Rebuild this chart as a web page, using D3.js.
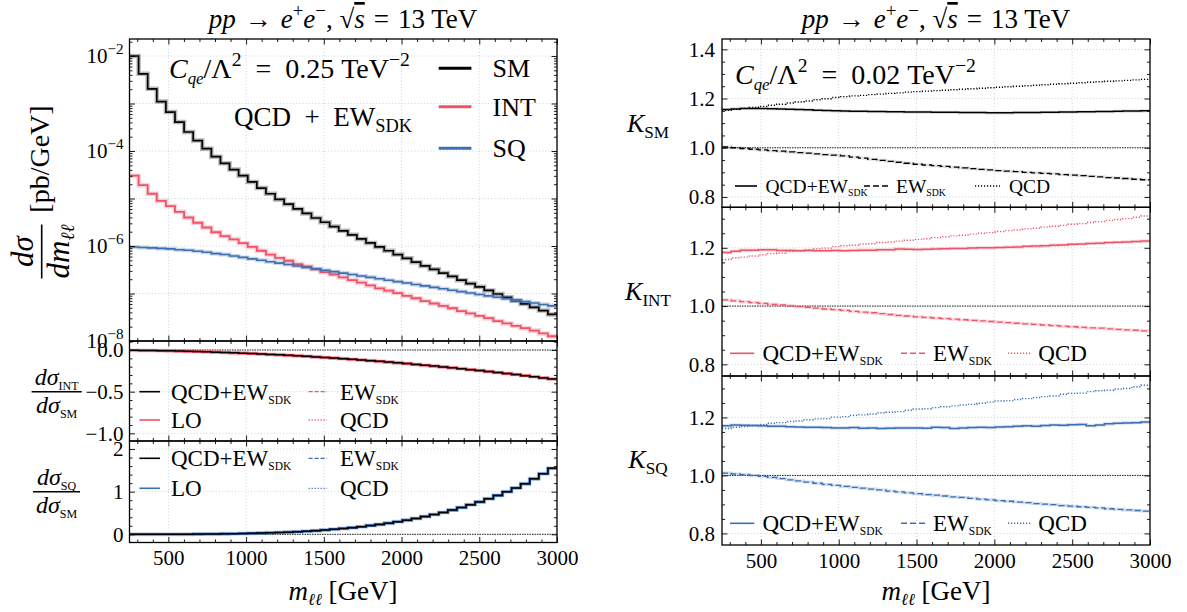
<!DOCTYPE html>
<html><head><meta charset="utf-8">
<script src="https://cdn.jsdelivr.net/npm/d3@7/dist/d3.min.js"></script>
<style>
html,body{margin:0;padding:0;background:#fff;overflow:hidden}
svg text{font-family:"Liberation Serif","DejaVu Serif",serif;fill:#000}
.tick text{font-size:21px}
</style></head><body>
<svg id="chart" width="1187" height="612" xmlns="http://www.w3.org/2000/svg"></svg>
<script>
// ---------------- data ----------------
const massRange = [250, 3000];
const nBins = 47;
const xTickValues = [500, 1000, 1500, 2000, 2500, 3000];
const logLabelExponents = [-2, -4, -6, -8];
const intRatioTicks = [0, -0.5, -1.0];
const sqRatioTicks = [0, 1, 2];
const kTicksSM = [0.8, 1.0, 1.2, 1.4];
const kTicks = [0.8, 1.0, 1.2];
const componentNames = ["SM", "INT", "SQ"];

// log10 of dσ/dm [pb/GeV] per bin
const smLog10 = [-2.00,-2.375,-2.69,-2.96,-3.18,-3.39,-3.60,-3.78,-3.95,-4.12,-4.26,
 -4.39,-4.52,-4.65,-4.78,-4.90,-5.02,-5.12,-5.22,-5.315,-5.41,
 -5.50,-5.59,-5.68,-5.765,-5.85,-5.935,-6.02,-6.10,-6.18,-6.26,
 -6.34,-6.42,-6.49,-6.57,-6.64,-6.72,-6.79,-6.86,-6.935,-7.01,
 -7.08,-7.15,-7.22,-7.29,-7.36,-7.44];
const intLog10 = [-4.52,-4.72,-4.90,-5.05,-5.16,-5.28,-5.40,-5.51,-5.61,-5.71,-5.79,
 -5.86,-5.94,-6.02,-6.10,-6.18,-6.25,-6.31,-6.38,-6.43,-6.49,
 -6.55,-6.60,-6.66,-6.72,-6.77,-6.83,-6.89,-6.94,-6.99,-7.05,
 -7.10,-7.16,-7.21,-7.26,-7.31,-7.37,-7.42,-7.47,-7.52,-7.58,
 -7.63,-7.68,-7.73,-7.78,-7.84,-7.90];
const sqLog10 = [-6.02,-6.03,-6.04,-6.05,-6.06,-6.08,-6.09,-6.11,-6.13,-6.16,-6.18,
 -6.21,-6.24,-6.27,-6.30,-6.33,-6.36,-6.39,-6.42,-6.45,-6.48,
 -6.51,-6.54,-6.57,-6.60,-6.63,-6.66,-6.69,-6.72,-6.75,-6.78,
 -6.81,-6.84,-6.87,-6.90,-6.93,-6.96,-6.99,-7.02,-7.05,-7.08,
 -7.11,-7.14,-7.17,-7.20,-7.23,-7.26];

const intOverSm = [-0.003,-0.0045,-0.006,-0.008,-0.010,-0.013,-0.016,-0.019,-0.022,-0.026,-0.030,
 -0.034,-0.038,-0.043,-0.048,-0.053,-0.058,-0.064,-0.070,-0.076,-0.083,
 -0.090,-0.097,-0.104,-0.112,-0.120,-0.128,-0.136,-0.145,-0.154,-0.163,
 -0.173,-0.183,-0.193,-0.203,-0.214,-0.225,-0.236,-0.247,-0.259,-0.271,
 -0.283,-0.295,-0.308,-0.321,-0.335,-0.348];
const sqOverSm = [0.0001,0.0003,0.0005,0.0008,0.0013,0.0021,0.0031,0.0044,0.0060,0.0082,0.0108,
 0.0141,0.0180,0.0227,0.0282,0.0347,0.0423,0.051,0.061,0.073,0.086,
 0.100,0.117,0.135,0.156,0.179,0.204,0.232,0.262,0.296,0.332,
 0.372,0.415,0.463,0.513,0.568,0.628,0.692,0.760,0.834,0.913,
 0.997,1.087,1.183,1.30,1.42,1.55];

const kSmQcdEw = [1.155,1.158,1.160,1.160,1.160,1.159,1.158,1.156,1.155,1.154,1.152,
 1.151,1.150,1.149,1.148,1.148,1.147,1.147,1.146,1.146,1.145,
 1.145,1.145,1.144,1.144,1.144,1.143,1.143,1.143,1.142,1.142,
 1.142,1.143,1.143,1.143,1.144,1.144,1.145,1.145,1.146,1.146,
 1.147,1.147,1.148,1.149,1.149,1.150];
const kSmEw = [1.003,1.000,0.997,0.994,0.991,0.988,0.986,0.983,0.980,0.978,0.975,
 0.972,0.970,0.967,0.962,0.958,0.953,0.949,0.945,0.941,0.937,
 0.933,0.930,0.927,0.924,0.921,0.918,0.915,0.912,0.910,0.907,
 0.905,0.903,0.900,0.898,0.896,0.894,0.891,0.889,0.887,0.884,
 0.882,0.879,0.877,0.875,0.872,0.870];
const kSmQcd = [1.152,1.156,1.160,1.164,1.168,1.173,1.177,1.182,1.186,1.190,1.195,
 1.199,1.204,1.208,1.211,1.213,1.216,1.218,1.221,1.223,1.226,
 1.228,1.230,1.232,1.234,1.236,1.238,1.240,1.242,1.244,1.246,
 1.248,1.250,1.252,1.254,1.256,1.258,1.260,1.262,1.264,1.266,
 1.268,1.270,1.272,1.274,1.276,1.278];
const kIntQcdEw = [1.184,1.188,1.192,1.192,1.193,1.193,1.191,1.191,1.190,1.191,1.190,
 1.190,1.191,1.190,1.191,1.192,1.192,1.193,1.193,1.196,1.195,
 1.194,1.195,1.196,1.197,1.198,1.198,1.199,1.200,1.200,1.201,
 1.202,1.203,1.205,1.206,1.207,1.209,1.210,1.212,1.213,1.215,
 1.216,1.218,1.219,1.220,1.222,1.223];
const kIntEw = [1.021,1.018,1.015,1.012,1.009,1.006,1.004,1.001,0.998,0.996,0.993,
 0.990,0.988,0.985,0.982,0.979,0.977,0.974,0.971,0.968,0.966,
 0.963,0.961,0.959,0.957,0.955,0.953,0.951,0.949,0.947,0.945,
 0.943,0.941,0.939,0.937,0.935,0.933,0.931,0.929,0.927,0.925,
 0.924,0.922,0.920,0.918,0.917,0.915];
const kIntQcd = [1.160,1.166,1.168,1.172,1.176,1.180,1.182,1.187,1.190,1.193,1.197,
 1.199,1.204,1.207,1.209,1.213,1.214,1.218,1.220,1.223,1.226,
 1.229,1.231,1.235,1.238,1.241,1.243,1.247,1.250,1.252,1.256,
 1.259,1.261,1.265,1.267,1.271,1.274,1.277,1.281,1.283,1.287,
 1.290,1.294,1.297,1.300,1.305,1.309];
const kSqQcdEw = [1.171,1.174,1.173,1.172,1.171,1.170,1.170,1.168,1.167,1.166,1.166,
 1.165,1.164,1.164,1.165,1.163,1.164,1.162,1.163,1.164,1.164,
 1.164,1.163,1.166,1.165,1.162,1.164,1.165,1.166,1.165,1.167,
 1.168,1.170,1.171,1.170,1.172,1.174,1.173,1.175,1.176,1.171,
 1.174,1.178,1.180,1.181,1.182,1.184];
const kSqEw = [1.008,1.005,1.003,1.000,0.997,0.993,0.989,0.985,0.981,0.977,0.973,
 0.969,0.966,0.962,0.959,0.956,0.953,0.950,0.946,0.943,0.940,
 0.937,0.934,0.932,0.929,0.926,0.924,0.921,0.918,0.916,0.913,
 0.911,0.908,0.906,0.903,0.901,0.899,0.896,0.894,0.892,0.890,
 0.888,0.885,0.883,0.881,0.879,0.877];
const kSqQcd = [1.162,1.166,1.169,1.172,1.176,1.180,1.182,1.186,1.188,1.192,1.195,
 1.196,1.201,1.203,1.207,1.209,1.212,1.216,1.218,1.220,1.225,
 1.229,1.230,1.234,1.237,1.240,1.243,1.245,1.249,1.253,1.257,
 1.258,1.262,1.265,1.269,1.272,1.274,1.280,1.283,1.284,1.289,
 1.292,1.294,1.298,1.300,1.306,1.311];

// ---------------- style / layout ----------------
const RED = "#ee5468", BLUE = "#3d6fb3", GRID = "#b9c9d6";
const LX = [129.5, 557], RX = [722, 1150];
const ES = "\u2002", TS = "\u2004";
const svg = d3.select("#chart");
const xL = d3.scaleLinear(massRange, LX);
const xR = d3.scaleLinear(massRange, RX);
const edges = d3.range(nBins + 1).map(i => massRange[0] + i * (massRange[1] - massRange[0]) / nBins);
const xMinor = d3.range(300, 3000, 100).filter(v => v % 500 !== 0);

function stepData(vals) {
  const pts = vals.map((v, i) => [edges[i], v]);
  pts.push([edges[nBins], vals[nBins - 1]]);
  return pts;
}
function stepLine(x, y) {
  return d3.line().x(d => x(d[0])).y(d => y(d[1])).curve(d3.curveStepAfter);
}
function minors(lo, hi, step, major) {
  const out = [];
  for (let v = Math.ceil(lo / step) * step; v <= hi + 1e-9; v += step) {
    const r = v / major;
    if (Math.abs(r - Math.round(r)) > 0.01) out.push(+v.toFixed(4));
  }
  return out;
}

function rich(parent, x, y, size, parts, anchor) {
  const t = parent.append("text").attr("x", x).attr("y", y).attr("font-size", size)
    .attr("text-anchor", anchor || "start");
  let cur = 0;
  for (const p of parts) {
    const s = t.append("tspan").text(p.t);
    const target = p.sub ? size * (p.k ?? 0.28) : p.sup ? -size * (p.k ?? 0.42) : 0;
    if (target !== cur) { s.attr("dy", target - cur); cur = target; }
    if (p.fs) s.attr("font-size", size * p.fs);
    if (p.i) s.attr("font-style", "italic");
    if (p.ov) s.style("text-decoration", "overline");
  }
  return t;
}

let clipN = 0;
function frame(x, y, o) {
  const g = svg.append("g");
  const [xl, xr] = x.range(), [yb, yt] = y.range();
  const grid = g.append("g").attr("stroke", GRID).attr("stroke-width", 0.8).attr("stroke-dasharray", "1,2.2");
  grid.selectAll(".gx").data(o.xGrid).join("line").attr("class", "gx")
    .attr("x1", d => x(d)).attr("x2", d => x(d)).attr("y1", yt).attr("y2", yb);
  grid.selectAll(".gy").data(o.yGrid).join("line").attr("class", "gy")
    .attr("x1", xl).attr("x2", xr).attr("y1", d => y(d)).attr("y2", d => y(d));
  const id = "clip" + (clipN++);
  g.append("clipPath").attr("id", id).append("rect")
    .attr("x", xl).attr("y", yt).attr("width", xr - xl).attr("height", yb - yt);
  const data = g.append("g").attr("clip-path", `url(#${id})`);
  const axes = g.append("g");
  const mk = (fn, sc, vals, size, tr) => {
    const a = axes.append("g").attr("transform", tr)
      .call(fn(sc).tickValues(vals).tickSize(-size).tickFormat(""));
    a.select(".domain").remove();
    a.selectAll("text").remove();
    a.selectAll(".tick line").attr("stroke", "#000").attr("stroke-width", 0.9);
  };
  mk(d3.axisBottom, x, xTickValues, 5.5, `translate(0,${yb})`);
  mk(d3.axisBottom, x, xMinor, 3, `translate(0,${yb})`);
  mk(d3.axisTop, x, xTickValues, 5.5, `translate(0,${yt})`);
  mk(d3.axisTop, x, xMinor, 3, `translate(0,${yt})`);
  mk(d3.axisLeft, y, o.yMajor, 5.5, `translate(${xl},0)`);
  mk(d3.axisLeft, y, o.yMinor, 3, `translate(${xl},0)`);
  mk(d3.axisRight, y, o.yMajor, 5.5, `translate(${xr},0)`);
  mk(d3.axisRight, y, o.yMinor, 3, `translate(${xr},0)`);
  if (o.xLabels) {
    const a = axes.append("g").attr("transform", `translate(0,${yb})`)
      .call(d3.axisBottom(x).tickValues(o.xLabels).tickSize(0).tickPadding(o.xPad).tickFormat(d3.format("d")));
    a.select(".domain").remove();
    a.attr("font-size", null).attr("font-family", null);
  }
  if (o.yLabels) {
    const a = axes.append("g").attr("transform", `translate(${xl},0)`)
      .call(d3.axisLeft(y).tickValues(o.yLabels).tickSize(0).tickPadding(o.yPad).tickFormat(o.yFmt));
    a.select(".domain").remove();
    a.attr("font-size", null).attr("font-family", null);
  }
  g.append("rect").attr("x", xl).attr("y", yt).attr("width", xr - xl).attr("height", yb - yt)
    .attr("fill", "none").attr("stroke", "#000").attr("stroke-width", 1.3);
  return { g, data, axes };
}

function drawStep(parent, x, y, vals, color, width, dash, shade, shadeOp) {
  const ln = stepLine(x, y);
  const pts = stepData(vals);
  if (shade) parent.append("path").attr("d", ln(pts)).attr("fill", "none")
    .attr("stroke", color).attr("stroke-opacity", shadeOp || 0.28).attr("stroke-width", shade);
  parent.append("path").attr("d", ln(pts)).attr("fill", "none").attr("stroke", color)
    .attr("stroke-width", width).attr("stroke-dasharray", dash || null);
}
function refLine(parent, x, y, v) {
  parent.append("line").attr("x1", x.range()[0]).attr("x2", x.range()[1])
    .attr("y1", y(v)).attr("y2", y(v)).attr("stroke", "#222").attr("stroke-width", 1)
    .attr("stroke-dasharray", "1.5,1");
}
function handle(parent, x1, x2, yy, color, width, dash) {
  parent.append("line").attr("x1", x1).attr("x2", x2).attr("y1", yy).attr("y2", yy)
    .attr("stroke", color).attr("stroke-width", width).attr("stroke-dasharray", dash || null);
}
const DASH = "6,3", DOT = "1.2,1.8";

// ---------------- left: top panel ----------------
const yTop = d3.scaleLog([1e-8, Math.pow(10, -1.642)], [341, 39]);
const decades = d3.range(-8, -1).map(e => Math.pow(10, e));
const logMinor = [];
d3.range(-8, -1).forEach(e => d3.range(2, 10).forEach(m => { const v = m * Math.pow(10, e); if (v < yTop.domain()[1]) logMinor.push(v); }));
const fTop = frame(xL, yTop, { xGrid: xTickValues, yGrid: decades, yMajor: decades, yMinor: logMinor });
drawStep(fTop.data, xL, yTop, smLog10.map(v => Math.pow(10, v)), "#000", 1.7, null, 4.5);
drawStep(fTop.data, xL, yTop, intLog10.map(v => Math.pow(10, v)), RED, 1.8, null, 4.5);
drawStep(fTop.data, xL, yTop, sqLog10.map(v => Math.pow(10, v)), BLUE, 1.6, null, 4);
logLabelExponents.forEach(e => {
  rich(fTop.axes, LX[0] - 6, yTop(Math.pow(10, e)) + 7, 21,
    [{ t: "10" }, { t: "−" + (-e), sup: 1, fs: 0.72, k: 0.45 }], "end");
});
// annotations
rich(svg, 169, 78, 28, [{ t: "C", i: 1 }, { t: "qe", i: 1, sub: 1, fs: 0.6, k: 0.22 }, { t: "/Λ" },
  { t: "2", sup: 1, fs: 0.7 }, { t: ES + "=" + ES + "0.25 TeV" }, { t: "−2", sup: 1, fs: 0.7 }]);
rich(svg, 234, 126, 27, [{ t: "QCD" + ES + "+" + ES + "EW" }, { t: "SDK", sub: 1, fs: 0.68, k: 0.22 }]);
const mainColors = ["#000", RED, BLUE], mainY = [68.3, 106.7, 148.3];
componentNames.forEach((n, i) => {
  handle(svg, 438.7, 471.4, mainY[i], mainColors[i], 3);
  rich(svg, 492.6, mainY[i] + 9, 26, [{ t: n }]);
});
// title
const titleParts = [{ t: "pp", i: 1 }, { t: TS + "→" + TS }, { t: "e", i: 1 }, { t: "+", sup: 1, fs: 0.7, k: 0.4 },
  { t: "e", i: 1 }, { t: "−", sup: 1, fs: 0.7, k: 0.4 }, { t: ", √" }, { t: "s", i: 1, ov: 1 }, { t: TS + "=" + TS + "13 TeV" }];
rich(svg, 343, 28, 27, titleParts, "middle");
rich(svg, 936, 28, 27, titleParts, "middle");

// y-label left top (rotated fraction)
const yl = svg.append("g").attr("transform", "translate(41.7,251.5) rotate(-90)");
rich(yl, 0, -9, 31, [{ t: "dσ", i: 1 }], "middle");
yl.append("line").attr("x1", -27).attr("x2", 27).attr("y1", 0).attr("y2", 0).attr("stroke", "#000").attr("stroke-width", 1.6);
rich(yl, 0, 27, 31, [{ t: "dm", i: 1 }, { t: "ℓℓ", i: 1, sub: 1, fs: 0.62, k: 0.18 }], "middle");
rich(yl, 92.5, 7, 28, [{ t: "[pb/GeV]" }], "middle");

// ---------------- left: INT ratio ----------------
const yMid = d3.scaleLinear([-1.092, 0.108], [441, 341]);
const fMid = frame(xL, yMid, { xGrid: xTickValues, yGrid: intRatioTicks, yMajor: intRatioTicks,
  yMinor: minors(-1.092, 0.108, 0.1, 0.5), yLabels: intRatioTicks, yFmt: d3.format(".1f"), yPad: 6 });
refLine(fMid.data, xL, yMid, 0);
drawStep(fMid.data, xL, yMid, intOverSm, RED, 2.6, null, 4);
drawStep(fMid.data, xL, yMid, intOverSm, RED, 1.2, DASH);
drawStep(fMid.data, xL, yMid, intOverSm, RED, 1.2, DOT);
drawStep(fMid.data, xL, yMid, intOverSm, "#000", 1.5);
function ratioLegend(y1, y2, color) {
  handle(svg, 139.4, 160, y1, "#000", 1.6);
  rich(svg, 171, y1 + 8, 23, [{ t: "QCD+EW" }, { t: "SDK", sub: 1, fs: 0.5, k: 0.18 }]);
  handle(svg, 139.4, 160, y2, color, 1.6);
  rich(svg, 171, y2 + 8, 23, [{ t: "LO" }]);
  handle(svg, 308.6, 327.1, y1, color, 1.3, "4,2");
  rich(svg, 340, y1 + 8, 23, [{ t: "EW" }, { t: "SDK", sub: 1, fs: 0.5, k: 0.18 }]);
  handle(svg, 308.6, 327.1, y2, color, 1.3, DOT);
  rich(svg, 340, y2 + 8, 23, [{ t: "QCD" }]);
}
ratioLegend(391.7, 420, RED);
function fracLabel(cx, yBar, x1, x2, num, den) {
  rich(svg, cx, yBar - 7, 24, [{ t: "dσ", i: 1 }, { t: num, sub: 1, fs: 0.5, k: 0.2 }], "middle");
  svg.append("line").attr("x1", x1).attr("x2", x2).attr("y1", yBar).attr("y2", yBar).attr("stroke", "#000").attr("stroke-width", 1.4);
  rich(svg, cx, yBar + 21.5, 24, [{ t: "dσ", i: 1 }, { t: den, sub: 1, fs: 0.5, k: 0.2 }], "middle");
}
fracLabel(56.7, 391.7, 31.6, 81.8, "INT", "SM");

// ---------------- left: SQ ratio ----------------
const yBot = d3.scaleLinear([-0.192, 2.188], [542.5, 441]);
const fBot = frame(xL, yBot, { xGrid: xTickValues, yGrid: sqRatioTicks, yMajor: sqRatioTicks,
  yMinor: minors(-0.192, 2.188, 0.2, 1), yLabels: sqRatioTicks, yFmt: d3.format("d"), yPad: 6,
  xLabels: xTickValues, xPad: 7.6 });
refLine(fBot.data, xL, yBot, 0);
drawStep(fBot.data, xL, yBot, sqOverSm, BLUE, 2.6, null, 4);
drawStep(fBot.data, xL, yBot, sqOverSm, BLUE, 1.2, DASH);
drawStep(fBot.data, xL, yBot, sqOverSm, BLUE, 1.2, DOT);
drawStep(fBot.data, xL, yBot, sqOverSm, "#000", 1.5);
ratioLegend(458.3, 488.3, BLUE);
fracLabel(56.5, 491.7, 33, 80, "SQ", "SM");
rich(svg, 343, 600, 27, [{ t: "m", i: 1 }, { t: "ℓℓ", i: 1, sub: 1, fs: 0.62, k: 0.2 }, { t: " [GeV]" }], "middle");

// ---------------- right: K-factor panels ----------------
function kPanel(rangeY, dom, ticks, color, tot, ew, qcd, sub, labelY, legY, legPos, legSize, showX, shadeOp) {
  const y = d3.scaleLinear(dom, rangeY);
  const o = { xGrid: xTickValues, yGrid: ticks, yMajor: ticks, yMinor: minors(dom[0], dom[1], 0.05, 0.2),
    yLabels: ticks, yFmt: d3.format(".1f"), yPad: 7 };
  if (showX) { o.xLabels = xTickValues; o.xPad = 8.1; }
  const f = frame(xR, y, o);
  refLine(f.data, xR, y, 1.0);
  drawStep(f.data, xR, y, ew, color, 1.3, DASH, 3, shadeOp);
  drawStep(f.data, xR, y, qcd, color, 1.4, DOT);
  drawStep(f.data, xR, y, tot, color, 1.5, null, 3.2, shadeOp);
  rich(svg, 648, labelY, 26, [{ t: "K", i: 1 }, { t: sub, sub: 1, fs: 0.66, k: 0.22 }], "middle");
  const p = legPos, ts = legSize;
  handle(svg, p[0], p[1], legY, color, 1.6);
  rich(svg, p[2], legY + ts * 0.34, ts, [{ t: "QCD+EW" }, { t: "SDK", sub: 1, fs: 0.5, k: 0.18 }]);
  handle(svg, p[3], p[4], legY, color, 1.4, DASH);
  rich(svg, p[5], legY + ts * 0.34, ts, [{ t: "EW" }, { t: "SDK", sub: 1, fs: 0.5, k: 0.18 }]);
  handle(svg, p[6], p[7], legY, color, 1.4, DOT);
  rich(svg, p[8], legY + ts * 0.34, ts, [{ t: "QCD" }]);
  return f;
}
const legCompact = [735, 757, 765.5, 864, 890, 896, 975, 1000, 1009];
const legWide = [730, 754.3, 762.5, 901, 927.3, 933, 1008, 1031, 1038.3];
kPanel([207.3, 39], [0.758, 1.442], kTicksSM, "#000", kSmQcdEw, kSmEw, kSmQcd, "SM", 132, 186, legCompact, 19.5, false, 0.12);
kPanel([376, 207.3], [0.76, 1.339], kTicks, RED, kIntQcdEw, kIntEw, kIntQcd, "INT", 300, 353.3, legWide, 23, false, 0.25);
kPanel([545, 376], [0.76, 1.343], kTicks, BLUE, kSqQcdEw, kSqEw, kSqQcd, "SQ", 468, 523.3, legWide, 23, true, 0.25);
rich(svg, 936, 600, 27, [{ t: "m", i: 1 }, { t: "ℓℓ", i: 1, sub: 1, fs: 0.62, k: 0.2 }, { t: " [GeV]" }], "middle");
rich(svg, 735, 84, 28, [{ t: "C", i: 1 }, { t: "qe", i: 1, sub: 1, fs: 0.6, k: 0.22 }, { t: "/Λ" },
  { t: "2", sup: 1, fs: 0.7 }, { t: ES + "=" + ES + "0.02 TeV" }, { t: "−2", sup: 1, fs: 0.7 }]);
</script></body></html>
